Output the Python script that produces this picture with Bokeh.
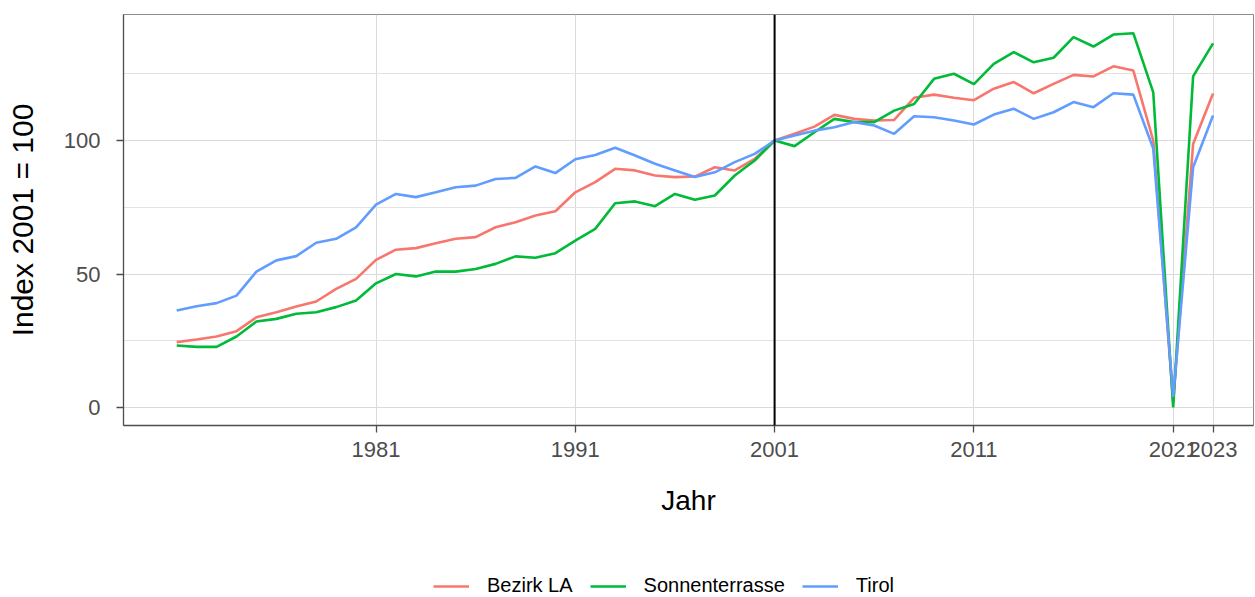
from bokeh.plotting import figure
from bokeh.models import FixedTicker, Span, Legend, LegendItem, Range1d
from bokeh.layouts import column
from bokeh.embed import file_html
from bokeh.resources import INLINE

years = list(range(1971, 2024))

bezirk_la = [24.5, 25.5, 26.6, 28.6, 33.8, 35.7, 37.8, 39.7, 44.4, 48.2,
             55.3, 59.1, 59.7, 61.5, 63.2, 63.8, 67.5, 69.4, 71.9, 73.5,
             80.6, 84.4, 89.4, 88.8, 86.9, 86.3, 86.5, 90.0, 88.8, 93.1,
             100.0, 102.5, 105.2, 109.6, 108.1, 107.5, 107.7, 116.0, 117.2, 116.0,
             115.1, 119.4, 121.9, 117.7, 121.2, 124.6, 124.0, 127.8, 126.2, 100.0,
             2.0, 98.7, 117.6]

sonnenterrasse = [23.2, 22.7, 22.7, 26.6, 32.2, 33.2, 35.1, 35.7, 37.6, 40.1,
                  46.5, 50.0, 49.1, 50.9, 50.9, 51.9, 53.8, 56.6, 56.1, 57.8,
                  62.5, 66.9, 76.5, 77.2, 75.4, 80.0, 77.8, 79.4, 86.9, 92.5,
                  100.0, 97.9, 103.1, 108.1, 106.9, 106.9, 111.2, 113.7, 123.1, 125.0,
                  121.1, 128.7, 133.1, 129.3, 131.0, 138.7, 135.2, 139.7, 140.2, 118.0,
                  0.0, 124.0, 136.4]

tirol = [36.3, 37.9, 39.1, 41.9, 50.9, 55.1, 56.7, 61.7, 63.2, 67.5,
         76.0, 80.0, 78.8, 80.6, 82.5, 83.1, 85.6, 86.0, 90.3, 87.8,
         93.0, 94.6, 97.3, 94.4, 91.3, 88.8, 86.3, 88.1, 91.9, 95.0,
         100.0, 101.9, 103.7, 105.0, 106.9, 105.6, 102.5, 109.1, 108.7, 107.5,
         106.0, 109.7, 111.9, 108.1, 110.6, 114.4, 112.5, 117.7, 117.2, 97.0,
         4.0, 90.0, 109.4]

series_names = ["Bezirk LA", "Sonnenterrasse", "Tirol"]
series_colors = ["#F8766D", "#00BA38", "#619CFF"]
x_ticks = [1981, 1991, 2001, 2011, 2021, 2023]
y_ticks = [0, 50, 100]
y_minor = [25, 75, 125]
ref_year = 2001

FONT = "Liberation Sans"
series_values = [bezirk_la, sonnenterrasse, tirol]

p = figure(width=1255, height=545, output_backend="svg", toolbar_location=None,
           x_range=Range1d(1968.33, 2025.03), y_range=Range1d(-6.74, 147.2),
           min_border_left=123, min_border_right=2, min_border_top=14, min_border_bottom=120)

p.background_fill_color = "white"
p.border_fill_color = "white"
p.outline_line_color = "#8C8C8C"
p.outline_line_width = 1

# axes
p.xaxis.ticker = FixedTicker(ticks=x_ticks)
p.yaxis.ticker = FixedTicker(ticks=y_ticks, minor_ticks=y_minor)
for ax in (p.xaxis[0], p.yaxis[0]):
    ax.axis_line_color = "#4D4D4D"
    ax.axis_line_width = 1.3
    ax.major_tick_line_color = "#4D4D4D"
    ax.major_tick_line_width = 1.3
    ax.major_tick_out = 7
    ax.major_tick_in = 0
    ax.minor_tick_line_color = None
    ax.major_label_text_font = FONT
    ax.major_label_text_font_size = "22px"
    ax.major_label_text_color = "#4D4D4D"
    ax.axis_label_text_font = FONT
    ax.axis_label_text_font_style = "normal"
    ax.axis_label_text_color = "black"

p.xaxis.axis_label = "Jahr"
p.yaxis.axis_label = "Index 2001 = 100"
p.xaxis.axis_label_text_font_size = "28px"
p.yaxis.axis_label_text_font_size = "30px"
p.xaxis.major_label_standoff = 9
p.xaxis.axis_label_standoff = 25
p.yaxis.major_label_standoff = 16
p.yaxis.axis_label_standoff = 22

# grid
p.xgrid.grid_line_color = "#DADADA"
p.xgrid.grid_line_width = 1
p.ygrid.grid_line_color = "#DADADA"
p.ygrid.grid_line_width = 1
p.ygrid.minor_grid_line_color = "#E3E3E3"
p.ygrid.minor_grid_line_width = 1

for vals, col in zip(series_values, series_colors):
    p.line(years, vals, line_color=col, line_width=2.6)

p.add_layout(Span(location=ref_year, dimension="height", line_color="black", line_width=2))

# legend strip below the chart (its frame is aligned with the main frame)
lg = figure(width=1255, height=52, output_backend="svg", toolbar_location=None,
            x_range=Range1d(0, 1), y_range=Range1d(0, 1), x_axis_type=None, y_axis_type=None,
            min_border_left=0, min_border_right=0, min_border_top=0, min_border_bottom=0)
lg.outline_line_color = None
lg.grid.visible = False
lg.border_fill_color = "white"
lg.background_fill_color = "white"
# same series, drawn outside this strip's visible range: only used for legend swatches
legend_renderers = [lg.line(years, vals, line_color=c, line_width=2.6)
                    for vals, c in zip(series_values, series_colors)]

legend = Legend(items=[LegendItem(label=n, renderers=[r]) for n, r in zip(series_names, legend_renderers)],
                orientation="horizontal", location=(310, 0),
                padding=0, margin=0, spacing=17, glyph_width=36, glyph_height=20,
                label_standoff=18, label_text_font=FONT, label_text_font_size="20px",
                label_text_color="black", border_line_color=None, background_fill_alpha=0)
lg.add_layout(legend, "center")

layout = column(p, lg, spacing=0)
open("out.html", "w").write(file_html(layout, INLINE))
